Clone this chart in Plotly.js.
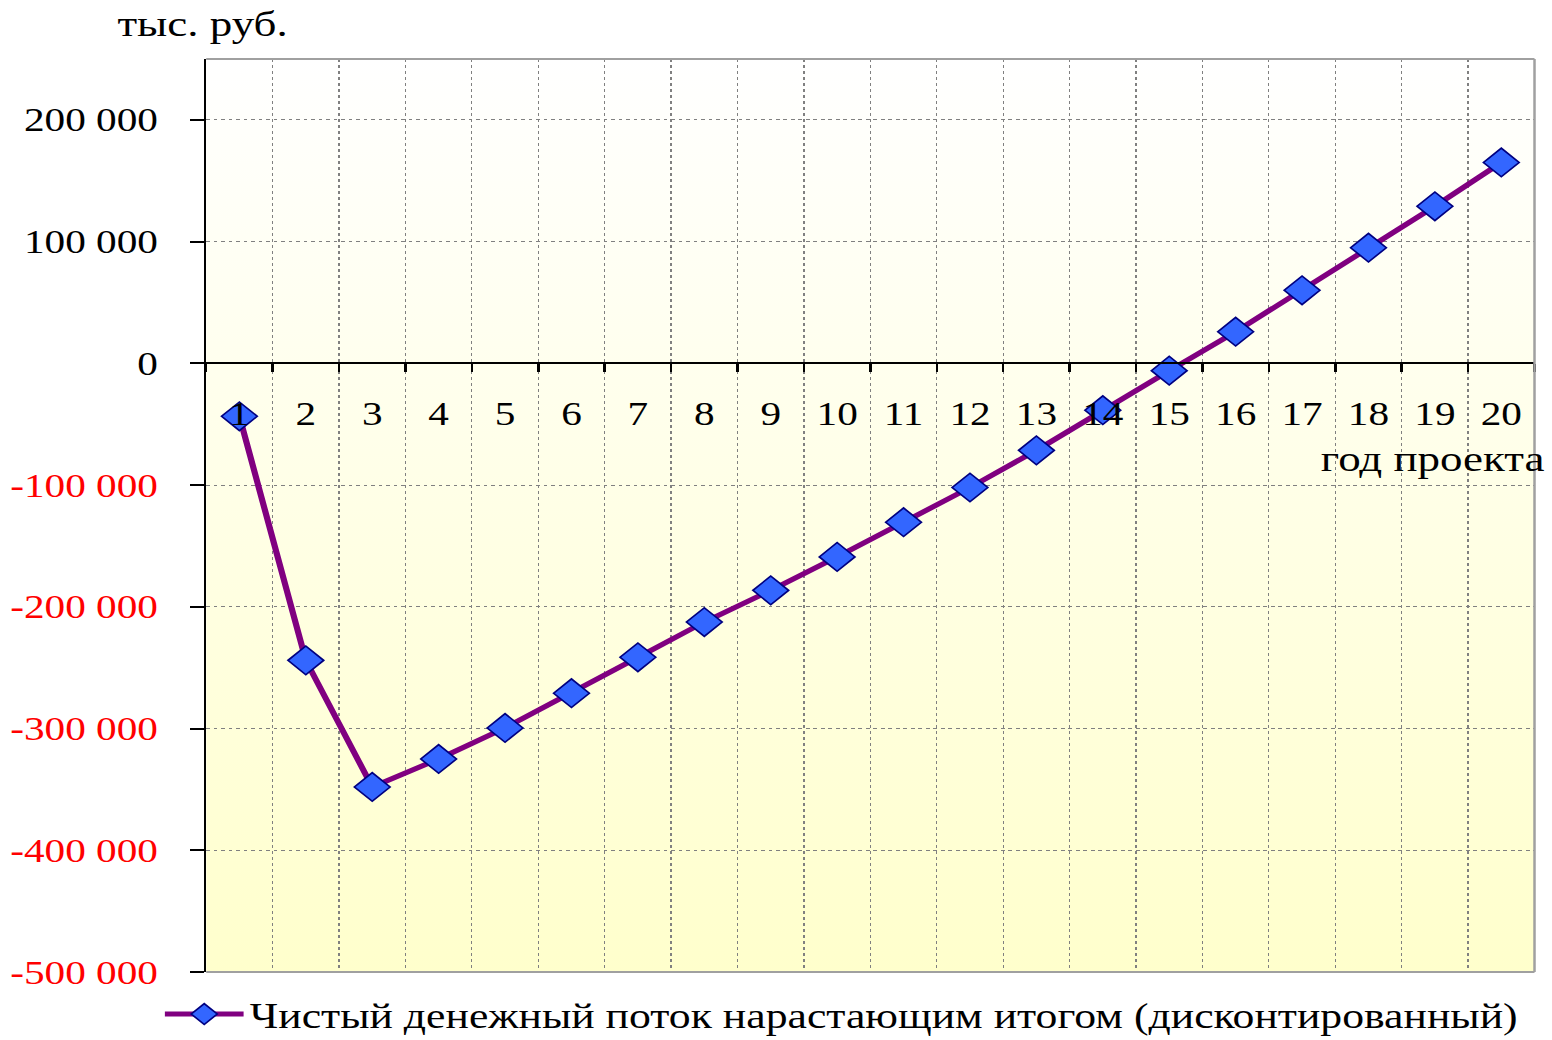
<!DOCTYPE html>
<html>
<head>
<meta charset="utf-8">
<script src="https://cdn.plot.ly/plotly-3.0.1.min.js"></script>
<style>
  html, body { margin: 0; padding: 0; overflow: hidden; background: #ffffff; }
  #chart { width: 1242px; height: 1040px; transform: scaleX(1.2496); transform-origin: 0 0; }
</style>
</head>
<body>
<div id="chart"></div>
<script>
// ---- data ----
const years = ["1","2","3","4","5","6","7","8","9","10","11","12","13","14","15","16","17","18","19","20"];
const cumulativeNPV = [-43500, -244000, -348000, -325000, -299500, -271000, -241500, -212500, -186500, -159000,
                       -130500, -102000, -71500, -38500, -6000, 26000, 60000, 95000, 129000, 165000];
const yTickVals = [200000, 100000, 0, -100000, -200000, -300000, -400000, -500000];
const yTickText = ["200 000", "100 000", "0",
  '<span style="color:#ff0000">-100 000</span>',
  '<span style="color:#ff0000">-200 000</span>',
  '<span style="color:#ff0000">-300 000</span>',
  '<span style="color:#ff0000">-400 000</span>',
  '<span style="color:#ff0000">-500 000</span>'];
const seriesName = "Чистый денежный поток нарастающим итогом (дисконтированный)";
const yUnit = "тыс. руб.";
const xTitle = "год проекта";

const FONT = "'Liberation Serif', 'Times New Roman', serif";

const gradSvg = '<svg xmlns="http://www.w3.org/2000/svg" width="100" height="100" preserveAspectRatio="none">' +
  '<defs><linearGradient id="g" x1="0" y1="0" x2="0" y2="1">' +
  '<stop offset="0" stop-color="#ffffff"/><stop offset="1" stop-color="#ffffcc"/></linearGradient></defs>' +
  '<rect width="100" height="100" fill="url(#g)"/></svg>';
const gradUri = 'data:image/svg+xml;base64,' + btoa(gradSvg);

const trace = {
  x: years,
  y: cumulativeNPV,
  type: 'scatter',
  mode: 'lines+markers',
  name: seriesName,
  line: { color: '#800080', width: 5 },
  marker: { symbol: 'diamond', size: 22, color: '#3366ff', line: { color: '#000080', width: 1.5 } },
  cliponaxis: false
};

const layout = {
  width: 1242,
  height: 1040,
  margin: { l: 165, r: 14, t: 59, b: 68, autoexpand: false },
  paper_bgcolor: 'rgba(0,0,0,0)',
  plot_bgcolor: 'rgba(0,0,0,0)',
  font: { family: FONT, size: 33, color: '#000000' },
  showlegend: true,
  legend: {
    orientation: 'h',
    x: -0.0358, xanchor: 'left',
    y: -0.014, yanchor: 'top',
    font: { family: FONT, size: 35, color: '#000000' },
    itemwidth: 63,
    bgcolor: 'rgba(0,0,0,0)'
  },
  xaxis: {
    type: 'category',
    range: [-0.5, 19.5],
    anchor: 'free',
    position: 0.6667,
    tickson: 'boundaries',
    showgrid: true,
    gridcolor: '#808080',
    griddash: 'dot',
    gridwidth: 1,
    showline: true,
    linecolor: '#000000',
    linewidth: 2,
    ticks: 'outside',
    ticklen: 8,
    tickwidth: 2,
    tickcolor: '#000000',
    ticklabelstandoff: 21,
    tickfont: { family: FONT, size: 33, color: '#000000' },
    zeroline: false,
    fixedrange: true
  },
  yaxis: {
    range: [-500000, 250000],
    tickvals: yTickVals,
    ticktext: yTickText,
    showgrid: true,
    gridcolor: '#808080',
    griddash: 'dot',
    gridwidth: 1,
    zeroline: false,
    showline: true,
    linecolor: '#000000',
    linewidth: 2,
    ticks: 'outside',
    ticklen: 11,
    tickwidth: 2,
    tickcolor: '#000000',
    ticklabelstandoff: 19,
    tickfont: { family: FONT, size: 33, color: '#000000' },
    fixedrange: true
  },
  images: [{
    source: gradUri,
    xref: 'paper', yref: 'paper',
    x: 0, y: 1, sizex: 1, sizey: 1,
    xanchor: 'left', yanchor: 'top',
    sizing: 'stretch',
    layer: 'below'
  }],
  shapes: [
    { type: 'line', xref: 'paper', yref: 'paper', x0: 0, x1: 1, y0: 1, y1: 1, line: { color: '#a0a0a0', width: 2 }, layer: 'above' },
    { type: 'line', xref: 'paper', yref: 'paper', x0: 1, x1: 1, y0: 0, y1: 1, line: { color: '#a0a0a0', width: 2 }, layer: 'above' },
    { type: 'line', xref: 'paper', yref: 'paper', x0: 0, x1: 1, y0: 0, y1: 0, line: { color: '#a0a0a0', width: 2 }, layer: 'above' }
  ],
  annotations: [
    { text: yUnit, xref: 'paper', yref: 'paper', x: -0.069, y: 1.038, xanchor: 'left', yanchor: 'middle',
      showarrow: false, font: { family: FONT, size: 36, color: '#000000' } },
    { text: xTitle, xref: 'paper', yref: 'paper', x: 1.009, y: 0.562, xanchor: 'right', yanchor: 'middle',
      showarrow: false, font: { family: FONT, size: 36, color: '#000000' } }
  ]
};

Plotly.newPlot('chart', [trace], layout, { displayModeBar: false, staticPlot: true });
</script>
</body>
</html>
